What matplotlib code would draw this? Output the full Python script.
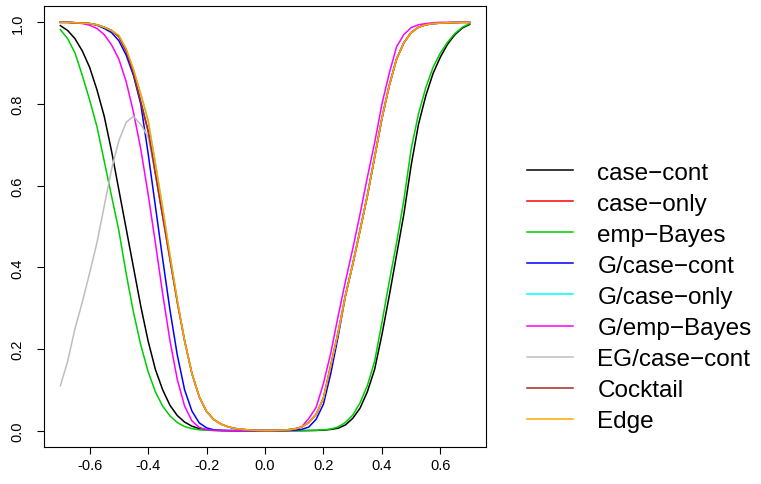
import matplotlib
matplotlib.use("Agg")
import matplotlib.pyplot as plt

plt.rcParams['font.family'] = ['Liberation Sans', 'DejaVu Sans']

# effect size grid (step 0.025)
x = [-0.700, -0.675, -0.650, -0.625, -0.600, -0.575, -0.550, -0.525, -0.500, -0.475,
     -0.450, -0.425, -0.400, -0.375, -0.350, -0.325, -0.300, -0.275, -0.250, -0.225,
     -0.200, -0.175, -0.150, -0.125, -0.100, -0.075, -0.050, -0.025, 0.000, 0.025,
     0.050, 0.075, 0.100, 0.125, 0.150, 0.175, 0.200, 0.225, 0.250, 0.275,
     0.300, 0.325, 0.350, 0.375, 0.400, 0.425, 0.450, 0.475, 0.500, 0.525,
     0.550, 0.575, 0.600, 0.625, 0.650, 0.675, 0.700]

# power curves
case_cont = [0.992, 0.98, 0.96, 0.93, 0.89, 0.835, 0.77, 0.685, 0.59, 0.495,
             0.40, 0.305, 0.22, 0.15, 0.10, 0.062, 0.037, 0.021, 0.011, 0.005,
             0.0025, 0.001, 0.0004, 0.0001, 0, 0, 0, 0, 0, 0,
             0, 0, 0, 0.0001, 0.0003, 0.0006, 0.0012, 0.003, 0.006, 0.014,
             0.03, 0.055, 0.095, 0.15, 0.235, 0.33, 0.43, 0.53, 0.65, 0.75,
             0.82, 0.875, 0.915, 0.947, 0.97, 0.986, 0.995]
emp_bayes = [0.982, 0.96, 0.925, 0.87, 0.81, 0.745, 0.66, 0.575, 0.49, 0.385,
             0.29, 0.21, 0.145, 0.095, 0.06, 0.036, 0.02, 0.01, 0.005, 0.002,
             0.001, 0.0003, 0.0001, 0, 0, 0, 0, 0, 0, 0,
             0, 0, 0, 0.0002, 0.0005, 0.001, 0.002, 0.004, 0.009, 0.02,
             0.038, 0.068, 0.11, 0.17, 0.265, 0.365, 0.46, 0.565, 0.69, 0.776,
             0.84, 0.89, 0.925, 0.952, 0.973, 0.988, 0.997]
g_case_cont = [1.0, 1.0, 0.999, 0.998, 0.997, 0.993, 0.985, 0.975, 0.955, 0.92,
               0.87, 0.80, 0.68, 0.55, 0.42, 0.295, 0.185, 0.10, 0.048, 0.019,
               0.007, 0.002, 0.0007, 0.0002, 0.0001, 0, 0, 0, 0, 0,
               0.0002, 0.0005, 0.0012, 0.003, 0.009, 0.028, 0.065, 0.14, 0.23, 0.33,
               0.407, 0.49, 0.575, 0.67, 0.765, 0.845, 0.91, 0.95, 0.975, 0.988,
               0.994, 0.997, 0.998, 0.999, 0.9995, 1.0, 1.0]
g_emp_bayes = [1.0, 1.0, 0.999, 0.997, 0.993, 0.985, 0.97, 0.945, 0.91, 0.855,
               0.78, 0.69, 0.58, 0.46, 0.335, 0.22, 0.125, 0.06, 0.024, 0.008,
               0.0025, 0.0008, 0.0002, 0, 0, 0, 0, 0, 0, 0.0001,
               0.0004, 0.001, 0.003, 0.009, 0.03, 0.057, 0.116, 0.19, 0.28, 0.365,
               0.445, 0.53, 0.62, 0.705, 0.80, 0.875, 0.94, 0.97, 0.987, 0.994,
               0.997, 0.999, 1.0, 1.0, 1.0, 1.0, 1.0]
edge = [1.0, 1.0, 0.999, 0.998, 0.997, 0.994, 0.988, 0.98, 0.968, 0.935,
        0.885, 0.825, 0.76, 0.655, 0.545, 0.43, 0.32, 0.22, 0.14, 0.083,
        0.047, 0.027, 0.016, 0.009, 0.005, 0.003, 0.0015, 0.0008, 0.0005, 0.0006,
        0.001, 0.002, 0.004, 0.009, 0.02, 0.04, 0.08, 0.16, 0.24, 0.33,
        0.407, 0.49, 0.575, 0.67, 0.765, 0.845, 0.91, 0.95, 0.975, 0.988,
        0.994, 0.997, 0.998, 0.999, 0.9995, 1.0, 1.0]
cocktail = [1.0, 1.0, 0.999, 0.998, 0.997, 0.994, 0.988, 0.98, 0.965, 0.93,
            0.875, 0.805, 0.735, 0.63, 0.525, 0.42, 0.315, 0.22, 0.14, 0.083,
            0.047, 0.027, 0.016, 0.009, 0.005, 0.003, 0.0015, 0.0008, 0.0005, 0.0006,
            0.001, 0.002, 0.004, 0.009, 0.02, 0.04, 0.08, 0.16, 0.24, 0.33,
            0.407, 0.49, 0.575, 0.67, 0.765, 0.845, 0.91, 0.95, 0.975, 0.988,
            0.994, 0.997, 0.998, 0.999, 0.9995, 1.0, 1.0]
eg_case_cont = [0.11, 0.17, 0.25, 0.315, 0.386, 0.46, 0.55, 0.64, 0.71, 0.755,
                0.77, 0.75, 0.72, 0.63, 0.525, 0.42, 0.315, 0.22, 0.14, 0.083,
                0.047, 0.027, 0.016, 0.009, 0.005, 0.003, 0.0015, 0.0008, 0.0005, 0.0006,
                0.001, 0.002, 0.004, 0.009, 0.02, 0.04, 0.08, 0.16, 0.24, 0.33,
                0.407, 0.49, 0.575, 0.67, 0.765, 0.845, 0.91, 0.95, 0.975, 0.988,
                0.994, 0.997, 0.998, 0.999, 0.9995, 1.0, 1.0]
case_only = cocktail      # hidden under Cocktail in the picture
g_case_only = edge        # hidden under Edge in the picture

labels = ['case\u2212cont', 'case\u2212only', 'emp\u2212Bayes', 'G/case\u2212cont',
          'G/case\u2212only', 'G/emp\u2212Bayes', 'EG/case\u2212cont', 'Cocktail', 'Edge']
series = [case_cont, case_only, emp_bayes, g_case_cont, g_case_only,
          g_emp_bayes, eg_case_cont, cocktail, edge]
colors = ['black', 'red', '#00CD00', 'blue', 'cyan', 'magenta', '#BEBEBE', '#A52A2A', 'orange']

fig = plt.figure(figsize=(7.61, 4.85), dpi=100)
ax = fig.add_axes([44 / 761, 1 - 448 / 485, 442 / 761, 441 / 485])

for y, c, lab in zip(series, colors, labels):
    ax.plot(x, y, color=c, lw=1.1, label=lab)

ax.set_xlim(-0.756, 0.756)
ax.set_ylim(-0.04, 1.04)
ax.set_xticks([-0.6, -0.4, -0.2, 0.0, 0.2, 0.4, 0.6])
ax.set_yticks([0.0, 0.2, 0.4, 0.6, 0.8, 1.0])
ax.set_xticklabels(['-0.6', '-0.4', '-0.2', '0.0', '0.2', '0.4', '0.6'])
ax.set_yticklabels(['0.0', '0.2', '0.4', '0.6', '0.8', '1.0'], rotation=90, va='center')
ax.tick_params(direction='out', length=5, width=0.8, labelsize=10.5)
ax.tick_params(axis='x', pad=3)
ax.tick_params(axis='y', pad=9)
for s in ax.spines.values():
    s.set_linewidth(0.8)

leg = fig.legend(loc='center left', bbox_to_anchor=(505 / 761, 1 - 298 / 485),
                 frameon=False, fontsize=17.5, handlelength=1.9, handletextpad=1.0,
                 labelspacing=0.37)
for line in leg.get_lines():
    line.set_linewidth(1.1)

fig.savefig('out.png', dpi=100)
